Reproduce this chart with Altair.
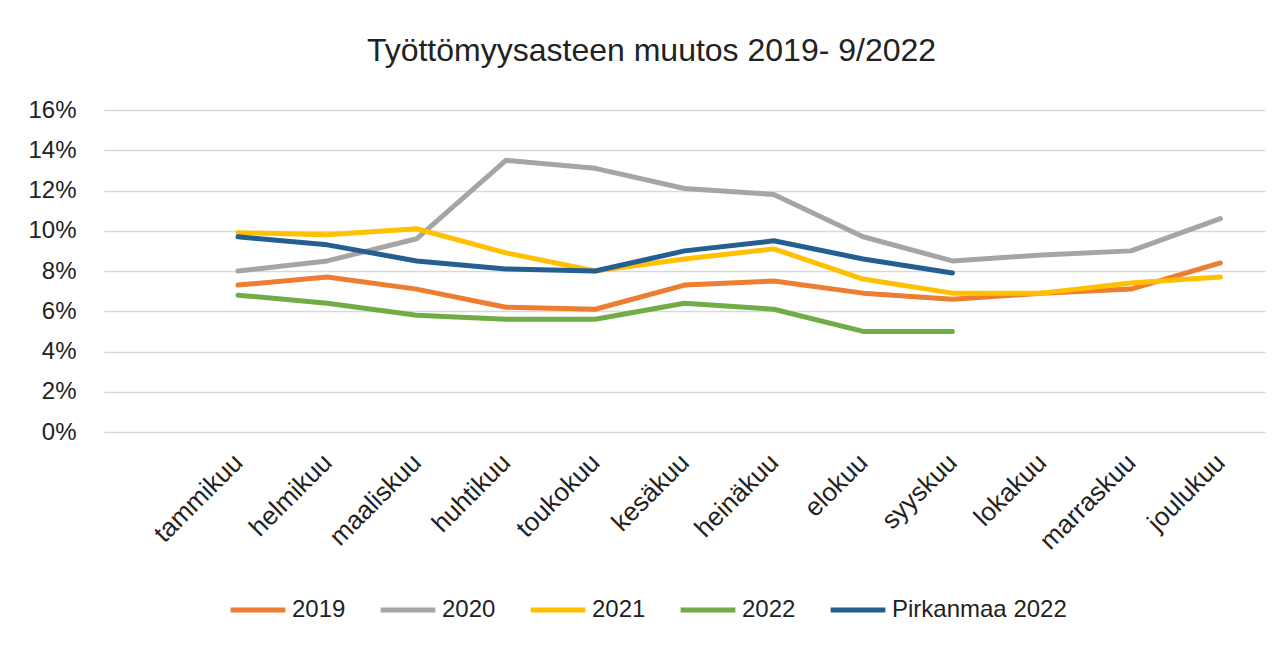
import altair as alt
import pandas as pd

months = ["tammikuu", "helmikuu", "maaliskuu", "huhtikuu", "toukokuu", "kesäkuu",
          "heinäkuu", "elokuu", "syyskuu", "lokakuu", "marraskuu", "joulukuu"]
series_names = ["2019", "2020", "2021", "2022", "Pirkanmaa 2022"]
s2019 = [7.3, 7.7, 7.1, 6.2, 6.1, 7.3, 7.5, 6.9, 6.6, 6.9, 7.1, 8.4]
s2020 = [8.0, 8.5, 9.6, 13.5, 13.1, 12.1, 11.8, 9.7, 8.5, 8.8, 9.0, 10.6]
s2021 = [9.9, 9.8, 10.1, 8.9, 8.0, 8.6, 9.1, 7.6, 6.9, 6.9, 7.4, 7.7]
s2022 = [6.8, 6.4, 5.8, 5.6, 5.6, 6.4, 6.1, 5.0, 5.0]
pirkanmaa2022 = [9.7, 9.3, 8.5, 8.1, 8.0, 9.0, 9.5, 8.6, 7.9]
colors = ["#ED7D31", "#A5A5A5", "#FFC000", "#70AD47", "#255E91"]
y_ticks = [0, 0.02, 0.04, 0.06, 0.08, 0.10, 0.12, 0.14, 0.16]

rows = []
for name, vals in zip(series_names, [s2019, s2020, s2021, s2022, pirkanmaa2022]):
    for m, v in zip(months, vals):
        rows.append({"kuukausi": m, "sarja": name, "arvo": v / 100})
df = pd.DataFrame(rows)

FONT = "Liberation Sans"
TXT = "#222222"

chart = alt.Chart(df).mark_line(strokeWidth=5, strokeCap="round", strokeJoin="round").encode(
    x=alt.X("kuukausi:O", sort=months,
            scale=alt.Scale(type="point", padding=1, align=0.75),
            axis=alt.Axis(title=None, labelAngle=-45, labelAlign="right", labelBaseline="middle",
                          labelFontSize=26, labelFont=FONT, labelColor=TXT, labelPadding=26,
                          ticks=False, domain=False, grid=False)),
    y=alt.Y("arvo:Q", scale=alt.Scale(domain=[0, 0.16], nice=False),
            axis=alt.Axis(title=None, values=y_ticks, format=".0%", labelFontSize=24,
                          labelFont=FONT, labelColor=TXT, labelPadding=28, ticks=False,
                          domain=False, gridColor="#D9D9D9", gridWidth=1.5)),
    color=alt.Color("sarja:N", sort=series_names,
                    scale=alt.Scale(domain=series_names, range=colors),
                    legend=alt.Legend(title=None, orient="none", direction="horizontal",
                                      legendX=124, legendY=470, symbolType="stroke",
                                      symbolSize=3000, symbolStrokeWidth=5, labelFontSize=24,
                                      labelFont=FONT, labelColor=TXT, labelOffset=4,
                                      labelLimit=400, columnPadding=24)),
    order=alt.value(0),
).properties(
    width=1161, height=322,
    title=alt.TitleParams("Työttömyysasteen muutos 2019- 9/2022", fontSize=32, font=FONT,
                          fontWeight="normal", color=TXT, dx=-33, offset=30),
    padding={"left": 96, "top": 102, "right": 11, "bottom": 197},
    autosize="none",
).configure_view(stroke=None)

chart.save("out.html", embed_options={"renderer": "svg", "actions": False})
